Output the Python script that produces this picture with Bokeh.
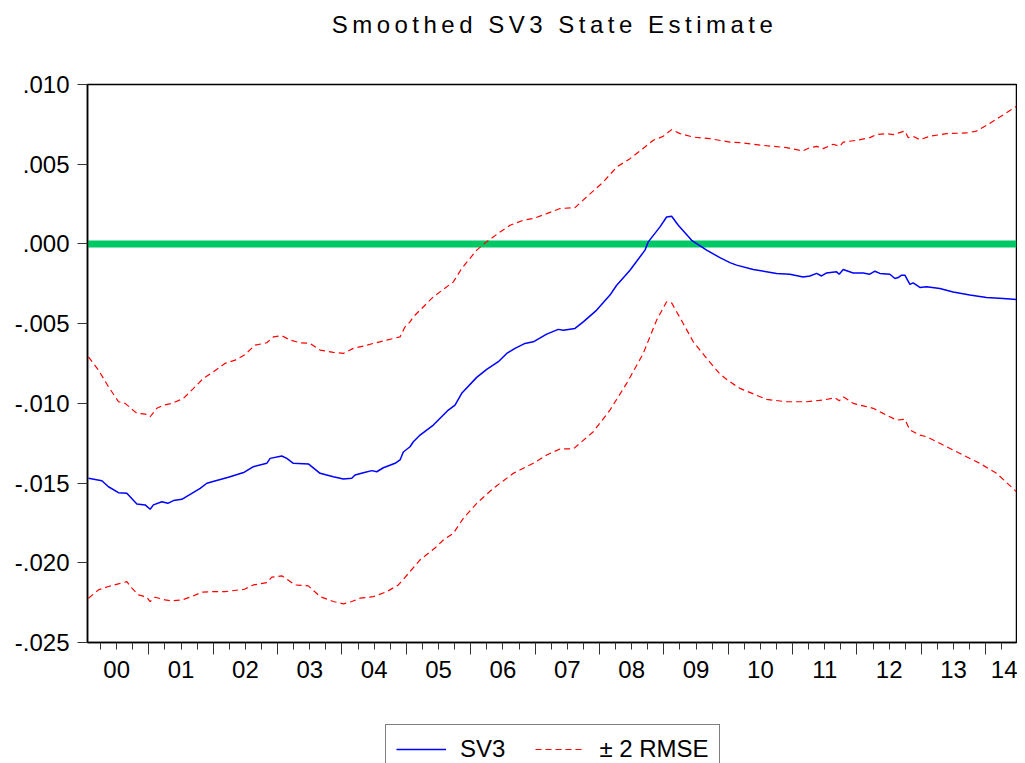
from bokeh.plotting import figure
from bokeh.models import LinearAxis, FixedTicker, Range1d, Span, Legend, LegendItem, Div
from bokeh.layouts import column
from bokeh.embed import file_html
from bokeh.resources import INLINE

# ---- data (decimal years, state estimate) ----
sv3_year = [2000.062, 2000.270, 2000.373, 2000.528, 2000.658, 2000.814, 2000.943,
            2001.020, 2001.071, 2001.202, 2001.295, 2001.382, 2001.512, 2001.668, 2001.797, 2001.901,
            2002.081, 2002.236, 2002.484, 2002.624, 2002.832, 2002.884,
            2003.065, 2003.143, 2003.245, 2003.478, 2003.660, 2003.866,
            2004.022, 2004.152, 2004.203, 2004.332, 2004.463, 2004.540, 2004.643, 2004.825, 2004.902, 2004.953,
            2005.057, 2005.109, 2005.213, 2005.419, 2005.652, 2005.756, 2005.860,
            2006.093, 2006.248, 2006.429, 2006.559, 2006.688, 2006.843, 2006.972,
            2007.180, 2007.360, 2007.438, 2007.620, 2007.748, 2007.957,
            2008.163, 2008.267, 2008.474, 2008.707, 2008.758, 2008.940,
            2009.043, 2009.121, 2009.224, 2009.432, 2009.665, 2009.871,
            2010.026, 2010.130, 2010.388, 2010.752, 2010.958,
            2011.165, 2011.269, 2011.373, 2011.450, 2011.528, 2011.683, 2011.724, 2011.786, 2011.941,
            2012.096, 2012.200, 2012.278, 2012.356, 2012.511, 2012.589, 2012.640, 2012.693, 2012.744, 2012.822, 2012.873, 2012.977,
            2013.081, 2013.287, 2013.494, 2013.753,
            2014.012, 2014.270, 2014.478]
sv3 = [-0.01470, -0.01485, -0.01523, -0.01560, -0.01564, -0.01631, -0.01637,
       -0.01664, -0.01637, -0.01617, -0.01627, -0.01610, -0.01602, -0.01564, -0.01533, -0.01501,
       -0.01481, -0.01464, -0.01432, -0.01397, -0.01376, -0.01345,
       -0.01330, -0.01345, -0.01376, -0.01380, -0.01439, -0.01460,
       -0.01474, -0.01470, -0.01449, -0.01435, -0.01422, -0.01429, -0.01404, -0.01376, -0.01355, -0.01305,
       -0.01272, -0.01241, -0.01199, -0.01136, -0.01042, -0.01011, -0.00937,
       -0.00837, -0.00787, -0.00739, -0.00687, -0.00655, -0.00624, -0.00614,
       -0.00566, -0.00536, -0.00541, -0.00530, -0.00489, -0.00415,
       -0.00321, -0.00259, -0.00165, -0.00039, 0.00013, 0.00107,
       0.00169, 0.00174, 0.00117, 0.00023, -0.00039, -0.00086,
       -0.00117, -0.00133, -0.00160, -0.00185, -0.00190,
       -0.00207, -0.00201, -0.00185, -0.00201, -0.00182, -0.00175, -0.00190, -0.00160, -0.00182,
       -0.00182, -0.00190, -0.00171, -0.00185, -0.00190, -0.00217, -0.00211, -0.00196, -0.00196, -0.00254, -0.00244, -0.00273,
       -0.00269, -0.00279, -0.00301, -0.00321,
       -0.00336, -0.00342, -0.00348]

upper_year = [2000.062, 2000.217, 2000.373, 2000.528, 2000.632, 2000.814, 2000.943,
              2001.020, 2001.124, 2001.227, 2001.357, 2001.537, 2001.719, 2001.848,
              2002.003, 2002.185, 2002.340, 2002.484, 2002.651, 2002.832, 2002.935,
              2003.065, 2003.194, 2003.349, 2003.505, 2003.660, 2003.866,
              2004.022, 2004.177, 2004.332, 2004.488, 2004.696, 2004.902, 2004.980,
              2005.057, 2005.109, 2005.419, 2005.730, 2005.860,
              2006.093, 2006.248, 2006.455, 2006.610, 2006.817, 2006.972,
              2007.180, 2007.387, 2007.620, 2007.801,
              2008.059, 2008.267, 2008.474, 2008.707, 2008.835, 2008.991,
              2009.121, 2009.250, 2009.457, 2009.716,
              2010.026, 2010.182, 2010.543, 2010.907,
              2011.155, 2011.269, 2011.373, 2011.475, 2011.630, 2011.734, 2011.786, 2011.994,
              2012.200, 2012.304, 2012.460, 2012.562, 2012.744, 2012.795, 2012.873, 2012.977,
              2013.132, 2013.391, 2013.702, 2013.857,
              2014.012, 2014.219, 2014.478]
upper = [-0.00708, -0.00791, -0.00896, -0.00990, -0.01000, -0.01063, -0.01067,
         -0.01084, -0.01031, -0.01011, -0.01000, -0.00969, -0.00896, -0.00843,
         -0.00802, -0.00749, -0.00729, -0.00697, -0.00635, -0.00620, -0.00583,
         -0.00576, -0.00603, -0.00620, -0.00624, -0.00666, -0.00680,
         -0.00687, -0.00655, -0.00641, -0.00624, -0.00603, -0.00583, -0.00520,
         -0.00489, -0.00457, -0.00332, -0.00238, -0.00154,
         -0.00039, 0.00013, 0.00075, 0.00117, 0.00149, 0.00159,
         0.00190, 0.00222, 0.00228, 0.00295,
         0.00388, 0.00482, 0.00535, 0.00608, 0.00650, 0.00675,
         0.00717, 0.00692, 0.00670, 0.00660,
         0.00639, 0.00635, 0.00618, 0.00604,
         0.00583, 0.00604, 0.00612, 0.00598, 0.00625, 0.00612, 0.00639, 0.00650,
         0.00667, 0.00686, 0.00692, 0.00686, 0.00708, 0.00667, 0.00675, 0.00654,
         0.00675, 0.00692, 0.00696, 0.00708,
         0.00744, 0.00796, 0.00863]

lower_year = [2000.062, 2000.217, 2000.373, 2000.528, 2000.658, 2000.736, 2000.839, 2000.969,
              2001.020, 2001.098, 2001.253, 2001.357, 2001.512, 2001.668, 2001.823, 2001.978,
              2002.185, 2002.484, 2002.624, 2002.832, 2002.910,
              2003.065, 2003.272, 2003.478, 2003.660, 2003.866,
              2004.022, 2004.152, 2004.281, 2004.488, 2004.696, 2004.876,
              2005.057, 2005.213, 2005.446, 2005.575, 2005.730, 2005.885,
              2006.093, 2006.351, 2006.661, 2006.972,
              2007.180, 2007.387, 2007.593, 2007.904,
              2008.163, 2008.422, 2008.680, 2008.888,
              2009.043, 2009.121, 2009.301, 2009.457, 2009.665, 2009.871,
              2010.026, 2010.182, 2010.596, 2010.907,
              2011.217, 2011.475, 2011.657, 2011.724, 2011.786, 2011.941,
              2012.149, 2012.252, 2012.407, 2012.615, 2012.744, 2012.822, 2012.977,
              2013.081, 2013.391, 2013.702, 2013.908,
              2014.168, 2014.478]
lower = [-0.02222, -0.02170, -0.02149, -0.02132, -0.02118, -0.02159, -0.02201, -0.02216,
         -0.02243, -0.02216, -0.02233, -0.02239, -0.02233, -0.02212, -0.02184, -0.02181,
         -0.02181, -0.02166, -0.02139, -0.02124, -0.02090,
         -0.02082, -0.02139, -0.02145, -0.02212, -0.02243,
         -0.02258, -0.02243, -0.02222, -0.02212, -0.02181, -0.02139,
         -0.02055, -0.01982, -0.01907, -0.01857, -0.01815, -0.01721,
         -0.01627, -0.01533, -0.01439, -0.01376,
         -0.01324, -0.01286, -0.01286, -0.01178,
         -0.01042, -0.00875, -0.00687, -0.00478,
         -0.00363, -0.00370, -0.00499, -0.00614, -0.00718, -0.00816,
         -0.00865, -0.00906, -0.00975, -0.00990,
         -0.00990, -0.00979, -0.00965, -0.00984, -0.00959, -0.01000,
         -0.01021, -0.01031, -0.01063, -0.01105, -0.01100, -0.01167, -0.01199,
         -0.01209, -0.01272, -0.01335, -0.01376,
         -0.01439, -0.01554]

y_ticks = [-0.025, -0.020, -0.015, -0.010, -0.005, 0.0, 0.005, 0.010]
y_labels = ["-.025", "-.020", "-.015", "-.010", "-.005", ".000", ".005", ".010"]
year_labels = ["00", "01", "02", "03", "04", "05", "06", "07", "08", "09", "10", "11", "12", "13", "14"]
title_text = "Smoothed SV3 State Estimate"
series_labels = ["SV3", "\u00b1 2 RMSE"]

FONT = "Liberation Sans"
BLUE = "#0000ff"
RED = "#ff0000"

title_div = Div(text=('<div style="font-family:\'Liberation Sans\';font-size:24px;letter-spacing:4.5px;'
                      'text-align:center;line-height:50px;color:black;white-space:nowrap;width:929px;">'
                      + title_text + '</div>'),
                width=929, height=50, margin=(0, 0, 0, 90))

p = figure(frame_width=929, frame_height=558,
           min_border_left=87, min_border_right=1, min_border_top=34, min_border_bottom=70,
           x_range=Range1d(2000.047, 2014.478), y_range=Range1d(-0.025, 0.010),
           x_axis_type=None, y_axis_type=None, title=None,
           output_backend="svg", toolbar_location=None)
p.outline_line_color = "black"
p.outline_line_width = 1.5
p.background_fill_color = "white"
p.border_fill_color = "white"

# y axis
yaxis = LinearAxis(ticker=FixedTicker(ticks=y_ticks, minor_ticks=[]),
                   major_label_overrides={t: l for t, l in zip(y_ticks, y_labels)})
yaxis.major_tick_out = 10
yaxis.major_tick_in = 0
yaxis.major_tick_line_color = "#333333"
yaxis.axis_line_color = "black"
yaxis.axis_line_width = 1.5
yaxis.major_label_text_font = FONT
yaxis.major_label_text_font_size = "24px"
yaxis.major_label_text_color = "black"
yaxis.major_label_standoff = 8
p.add_layout(yaxis, "left")

# x axis: tick marks (year boundaries long, quarters short)
first_year = 2000
n_years = len(year_labels)
year_starts = [first_year + i for i in range(1, n_years)]
quarters = [first_year + i + q for i in range(n_years) for q in (0.25, 0.5, 0.75)]
xticks_axis = LinearAxis(ticker=FixedTicker(ticks=year_starts, minor_ticks=quarters))
xticks_axis.major_tick_out = 12
xticks_axis.major_tick_in = 0
xticks_axis.minor_tick_out = 7
xticks_axis.minor_tick_in = 0
xticks_axis.major_tick_line_color = "#333333"
xticks_axis.minor_tick_line_color = "#333333"
xticks_axis.axis_line_color = "black"
xticks_axis.axis_line_width = 1.5
xticks_axis.major_label_text_font_size = "0px"
xticks_axis.major_label_standoff = 0
xticks_axis.major_label_overrides = {t: "" for t in year_starts}
p.add_layout(xticks_axis, "below")

# x axis: year labels centred in each year
label_pos = [first_year + i + 0.5 for i in range(n_years - 1)] + [first_year + n_years - 1 + 0.36]
xlab_axis = LinearAxis(ticker=FixedTicker(ticks=label_pos, minor_ticks=[]),
                       major_label_overrides={t: l for t, l in zip(label_pos, year_labels)})
xlab_axis.axis_line_color = None
xlab_axis.major_tick_line_color = None
xlab_axis.minor_tick_line_color = None
xlab_axis.major_tick_out = 0
xlab_axis.major_tick_in = 0
xlab_axis.minor_tick_out = 0
xlab_axis.minor_tick_in = 0
xlab_axis.major_label_text_font = FONT
xlab_axis.major_label_text_font_size = "24px"
xlab_axis.major_label_text_color = "black"
xlab_axis.major_label_standoff = 6
p.add_layout(xlab_axis, "below")

# zero line
p.add_layout(Span(location=0, dimension="width", line_color="#00c864", line_width=7, level="underlay"))

p.line(upper_year, upper, line_color=RED, line_width=1.2, line_dash="6 4")
p.line(lower_year, lower, line_color=RED, line_width=1.2, line_dash="6 4")
p.line(sv3_year, sv3, line_color=BLUE, line_width=1.5)

# legend strip (separate canvas so the legend box is not clipped by the plot frame);
# its key renderers carry the same series but lie outside this strip's view range
leg = figure(width=1017, height=51, min_border_left=0, min_border_right=0,
             min_border_top=0, min_border_bottom=0,
             x_range=Range1d(0, 1), y_range=Range1d(0, 1),
             x_axis_type=None, y_axis_type=None, title=None,
             output_backend="svg", toolbar_location=None)
leg.outline_line_color = None
leg.background_fill_color = "white"
leg.border_fill_color = "white"
key_sv3 = leg.line(sv3_year, sv3, line_color=BLUE, line_width=1.5)
key_rmse = leg.line(upper_year, upper, line_color=RED, line_width=1.2, line_dash="6 4")

legend = Legend(items=[LegendItem(label=series_labels[0], renderers=[key_sv3]),
                       LegendItem(label=series_labels[1], renderers=[key_rmse])],
                orientation="horizontal", location=(298, -11))
legend.glyph_width = 50
legend.label_standoff = 14
legend.spacing = 30
legend.padding = 10
legend.margin = 0
legend.border_line_color = "black"
legend.border_line_width = 1
legend.label_text_font = FONT
legend.label_text_font_size = "24px"
legend.label_text_color = "black"
leg.add_layout(legend, "center")

layout = column(title_div, p, leg, spacing=0)
open("out.html", "w").write(file_html(layout, INLINE))
